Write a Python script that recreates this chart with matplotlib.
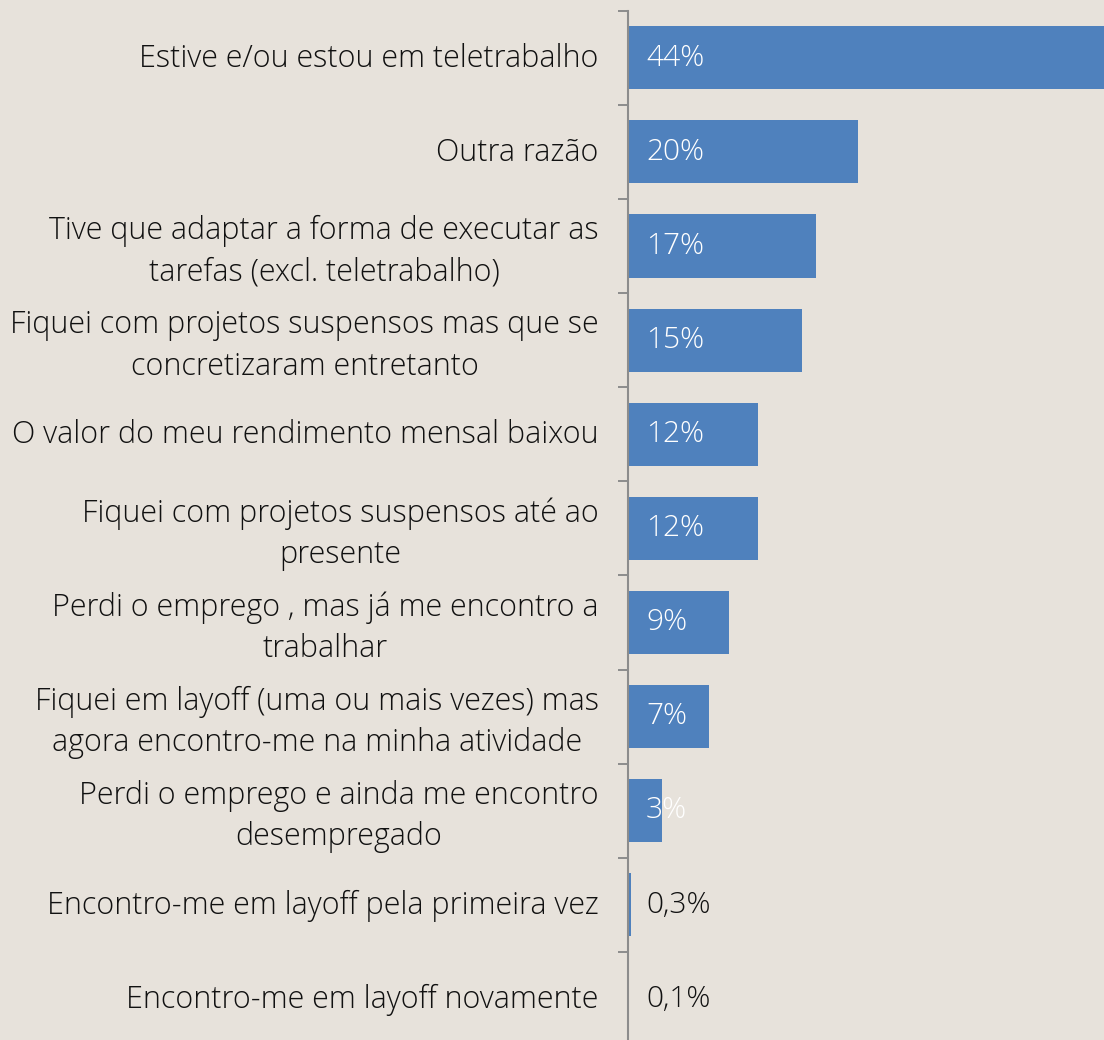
import matplotlib
matplotlib.use("Agg")
import matplotlib.pyplot as plt
import matplotlib.transforms as mtransforms
import numpy as np

plt.rcParams["font.family"] = ["Open Sans", "DejaVu Sans"]

categories = [
    "Estive e/ou estou em teletrabalho",
    "Outra razão",
    "Tive que adaptar a forma de executar as\ntarefas (excl. teletrabalho)",
    "Fiquei com projetos suspensos mas que se\nconcretizaram entretanto",
    "O valor do meu rendimento mensal baixou",
    "Fiquei com projetos suspensos até ao\npresente",
    "Perdi o emprego , mas já me encontro a\ntrabalhar",
    "Fiquei em layoff (uma ou mais vezes) mas\nagora encontro-me na minha atividade",
    "Perdi o emprego e ainda me encontro\ndesempregado",
    "Encontro-me em layoff pela primeira vez",
    "Encontro-me em layoff novamente",
]
values = [44.3, 20.2, 16.5, 15.3, 11.4, 11.4, 8.9, 7.1, 3.0, 0.3, 0.1]
value_labels = ["44%", "20%", "17%", "15%", "12%", "12%", "9%", "7%", "3%", "0,3%", "0,1%"]

bg = "#E7E2DB"
bar_color = "#4F81BD"
axis_color = "#8C8C8C"

fig = plt.figure(figsize=(11.04, 10.4), dpi=100, facecolor=bg)
ax = fig.add_axes([628 / 1104, 1 - 1046 / 1040, 1 - 628 / 1104, (1046 - 10.7) / 1040])
ax.set_facecolor(bg)

y = np.arange(len(categories))
ax.barh(y, values, height=0.67, color=bar_color)
ax.set_ylim(len(categories) - 0.5, -0.5)
ax.set_xlim(0, (1104 - 628) / 11.4)

for i, (v, lab) in enumerate(zip(values, value_labels)):
    col = "white" if v > 1 else "#111111"
    ax.annotate(lab, (0, i), xytext=(13, 0), textcoords="offset points",
                ha="left", va="center", fontsize=21.5, color=col, fontweight="light")

ax.set_yticks(y)
ax.set_yticklabels(categories, fontsize=22, color="#111111", fontweight="light",
                   ha="right", multialignment="center", linespacing=1.4)
ax.tick_params(axis="y", which="major", length=0, pad=21)
ax.set_yticks(np.arange(-0.5, len(categories) + 0.5, 1), minor=True)
ax.tick_params(axis="y", which="minor", length=7, width=1.4, color=axis_color)
ax.set_xticks([])

# nudge category labels up a little
shift = mtransforms.ScaledTranslation(0, 3 / 100, fig.dpi_scale_trans)
for t in ax.get_yticklabels():
    t.set_transform(t.get_transform() + shift)

for s in ["top", "right", "bottom"]:
    ax.spines[s].set_visible(False)
ax.spines["left"].set_color(axis_color)
ax.spines["left"].set_linewidth(1.5)

fig.savefig("out.png", dpi=100, facecolor=bg)
